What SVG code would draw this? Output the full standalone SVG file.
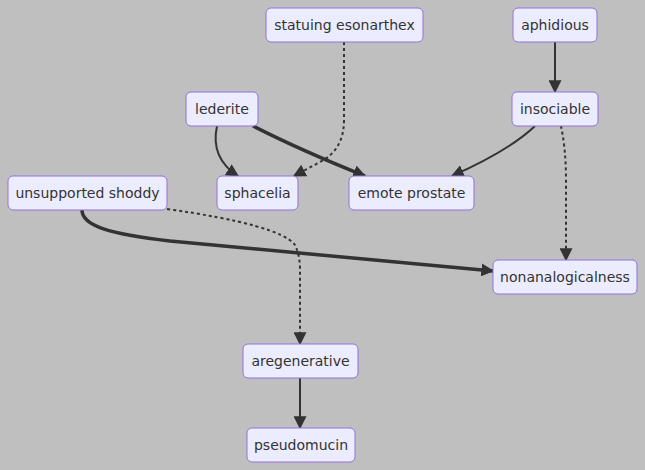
<svg xmlns="http://www.w3.org/2000/svg" width="645" height="470" viewBox="0 0 645 470">
<style>
.bg{fill:#bfbfbf}
.node rect{fill:#ececff;stroke:#9370db;stroke-width:1}
.node text{font-family:"DejaVu Sans",Verdana,sans-serif;font-size:14px;fill:#333;text-anchor:middle;dominant-baseline:central}
.e{fill:none;stroke:#333;stroke-width:2}
.thick{stroke-width:3.5}
.dot{stroke-dasharray:3 3}
</style>
<defs>
<marker id="ah" viewBox="0 0 10 10" refX="9" refY="5" markerUnits="userSpaceOnUse" markerWidth="13" markerHeight="13" orient="auto"><path d="M0,0 L10,5 L0,10 z" fill="#333"/></marker>
</defs>
<rect class="bg" x="0" y="0" width="645" height="470"/>
<g id="connectors">
<path class="e dot" d="M344,42 L344,120 Q344,150 320,162 L294,176" marker-end="url(#ah)"/>
<path class="e" d="M217,126 Q210,158 238,176" marker-end="url(#ah)"/>
<path class="e thick" d="M253,126 Q300,150 365,176" marker-end="url(#ah)"/>
<path class="e" d="M535,126 Q510,150 452,176" marker-end="url(#ah)"/>
<path class="e dot" d="M561,126 Q566,150 566,180 L566,260" marker-end="url(#ah)"/>
<path class="e" d="M555,42 L555,92" marker-end="url(#ah)"/>
<path class="e thick" d="M82,210 C82,226 110,234 170,241 L493,271" marker-end="url(#ah)"/>
<path class="e dot" d="M167,209 Q280,225 295,245 Q300,255 300,270 L300,344" marker-end="url(#ah)"/>
<path class="e" d="M300,378 L300,428" marker-end="url(#ah)"/>
</g>
<g id="statuing-esonarthex" class="node"><rect x="266" y="8" width="157" height="34" rx="5"/><text x="344.5" y="25">statuing esonarthex</text></g>
<g id="aphidious" class="node"><rect x="513" y="8" width="84" height="34" rx="5"/><text x="555" y="25">aphidious</text></g>
<g id="lederite" class="node"><rect x="186" y="92" width="72" height="34" rx="5"/><text x="222" y="109">lederite</text></g>
<g id="insociable" class="node"><rect x="512" y="92" width="86" height="34" rx="5"/><text x="555" y="109">insociable</text></g>
<g id="unsupported-shoddy" class="node"><rect x="8" y="176" width="159" height="34" rx="5"/><text x="87.5" y="193">unsupported shoddy</text></g>
<g id="sphacelia" class="node"><rect x="217" y="176" width="81" height="34" rx="5"/><text x="257.5" y="193">sphacelia</text></g>
<g id="emote-prostate" class="node"><rect x="349" y="176" width="125" height="34" rx="5"/><text x="411.5" y="193">emote prostate</text></g>
<g id="nonanalogicalness" class="node"><rect x="493" y="260" width="144" height="34" rx="5"/><text x="565" y="277">nonanalogicalness</text></g>
<g id="aregenerative" class="node"><rect x="243" y="344" width="115" height="34" rx="5"/><text x="300.5" y="361">aregenerative</text></g>
<g id="pseudomucin" class="node"><rect x="247" y="428" width="108" height="34" rx="5"/><text x="301" y="445">pseudomucin</text></g>
</svg>
